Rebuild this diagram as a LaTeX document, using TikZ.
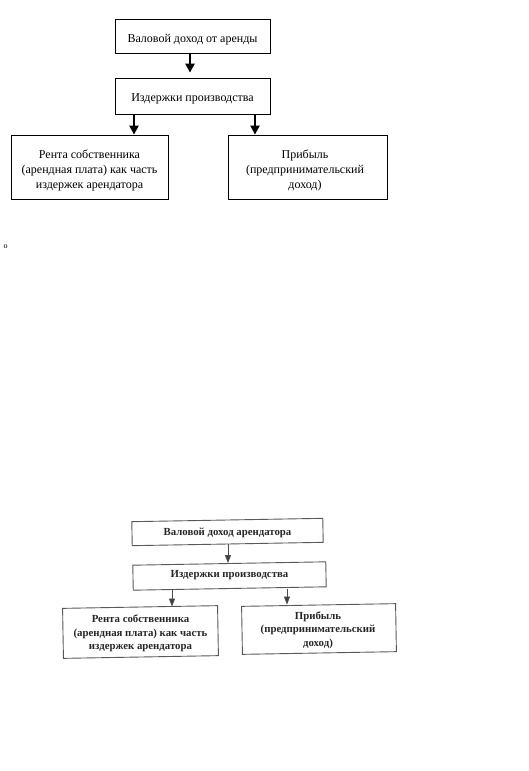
\documentclass[tikz,border=0pt]{standalone}
\usepackage{fontspec}
\setmainfont{Liberation Serif}
\usetikzlibrary{arrows.meta}
\begin{document}
\begin{tikzpicture}[x=1pt,y=-1pt,
  topbox/.style={draw=black,line width=0.8pt,inner sep=0pt},
  toptext/.style={inner sep=0pt,align=center,font=\fontsize{12}{15}\selectfont},
  toparr/.style={line width=2.5pt,-{Triangle[width=9pt,length=9pt]}},
  botbox/.style={draw=black!65,line width=0.9pt,inner sep=0pt,rotate=1},
  bottext/.style={inner sep=0pt,align=center,text=black!85,font=\fontsize{10.8}{13.5}\selectfont\bfseries},
  botarr/.style={draw=black!70,line width=0.8pt,-{Triangle[width=6pt,length=8pt,fill=black!75]}}]
\useasboundingbox (0,0) rectangle (528,771);
% top diagram
\node[topbox,minimum width=155pt,minimum height=34pt] (t1) at (192.5,36) {};
\node[topbox,minimum width=155pt,minimum height=36pt] (t2) at (192.5,96) {};
\node[topbox,minimum width=157pt,minimum height=64pt] (t3) at (89.5,167) {};
\node[topbox,minimum width=159pt,minimum height=64pt] (t4) at (307.5,167) {};
\node[toptext] (t1t) at (192.5,39.5) {Валовой доход от аренды};
\node[toptext] (t2t) at (192.5,98.5) {Издержки производства};
\node[toptext] (t3t) at (89.5,170) {Рента собственника\\(арендная плата) как часть\\издержек арендатора};
\node[toptext] (t4t) at (305,170) {Прибыль\\(предпринимательский\\доход)};
\draw[toparr,shorten >=5pt] (t1.south -| 190,0) -- (t2.north -| 190,0);
\draw[toparr] (t2.south -| 134,0) -- (t3.north -| 134,0);
\draw[toparr] (t2.south -| 255,0) -- (t4.north -| 255,0);
\node[font=\fontsize{8}{8}\selectfont,inner sep=0pt] (o) at (5.5,247) {o};
% bottom diagram (scanned copy, slightly tilted)
\node[botbox,minimum width=191pt,minimum height=24pt] (b1) at (227.5,532) {};
\node[botbox,minimum width=193pt,minimum height=25pt] (b2) at (229.5,576) {};
\node[botbox,minimum width=155pt,minimum height=50pt] (b3) at (140.5,632) {};
\node[botbox,minimum width=154pt,minimum height=48pt] (b4) at (319,629) {};
\node[bottext] (b1t) at (227.5,533) {Валовой доход арендатора};
\node[bottext] (b2t) at (229.5,575.5) {Издержки производства};
\node[bottext] (b3t) at (140.5,633.5) {Рента собственника\\(арендная плата) как часть\\издержек арендатора};
\node[bottext] (b4t) at (318,630) {Прибыль\\(предпринимательский\\доход)};
\draw[botarr] (b1.south -| 228,0) -- (b2.north -| 228,0);
\draw[botarr] (b2.south -| 172,0) -- (b3.north -| 172,0);
\draw[botarr] (b2.south -| 287,0) -- (b4.north -| 287,0);
\end{tikzpicture}
\end{document}
